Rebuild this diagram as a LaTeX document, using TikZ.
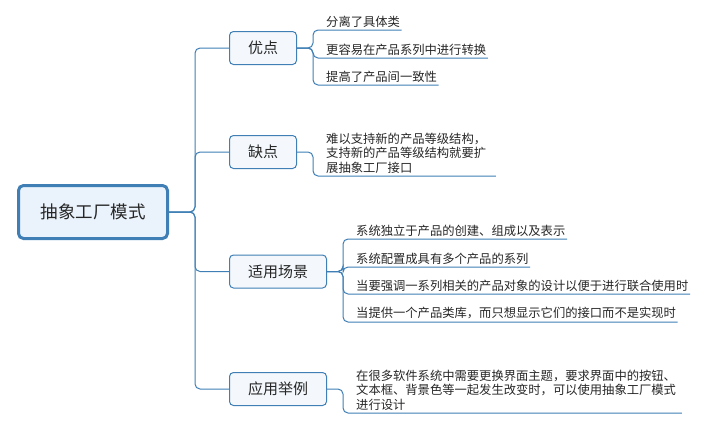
\documentclass[tikz,border=0pt]{standalone}
\usepackage{fontspec}
\setmainfont{Noto Sans CJK SC}
\usetikzlibrary{positioning}
\definecolor{linkblue}{HTML}{3F7FB5}
\definecolor{rootfill}{HTML}{EAF2FB}
\definecolor{topicfill}{HTML}{F4F8FC}
\definecolor{inkgray}{HTML}{262626}
\tikzset{
  root/.style={draw=linkblue,line width=3pt,rounded corners=5pt,fill=rootfill,minimum width=149pt,minimum height=53pt,font=\fontsize{17.5}{20}\selectfont,text=inkgray},
  topic/.style={draw=linkblue,line width=1pt,rounded corners=4pt,fill=topicfill,minimum width=67pt,minimum height=33pt,font=\fontsize{15}{18}\selectfont,text=inkgray},
  leaf/.style={anchor=south west,inner xsep=1.5pt,inner ysep=2.5pt,align=left,font=\fontsize{12.3}{14.5}\selectfont,text=inkgray},
  link/.style={draw=linkblue,line width=1pt,rounded corners=5pt}
}

\begin{document}
\begin{tikzpicture}[x=1pt,y=-1pt]
  \useasboundingbox (0,0) rectangle (709,423);

  \node (root) [root] at (93,212) {抽象工厂模式};

  \node (good) [topic] at (263,48) {优点};
  \node (bad) [topic] at (263,152) {缺点};
  \node (use) [topic,minimum width=97pt] at (278,271.5) {适用场景};
  \node (demo) [topic,minimum width=97pt] at (278,389) {应用举例};

  \draw[link] (root.east) -- ++(26,0) |- (good.west);
  \draw[link] (root.east) -- ++(26,0) |- (bad.west);
  \draw[link] (root.east) -- ++(26,0) |- (use.west);
  \draw[link] (root.east) -- ++(26,0) |- (demo.west);

  % 优点
  \node (good1) [leaf] at (324.5,30) {分离了具体类};
  \node (good2) [leaf] at (324.5,58) {更容易在产品系列中进行转换};
  \node (good3) [leaf] at (324.5,85) {提高了产品间一致性};
  \foreach \n in {good1,good2,good3}
    \draw[link] (good.east) -- ++(16,0) |- (\n.south west) -- (\n.south east);

  % 缺点
  \node (bad1) [leaf,text width=168pt] at (324.5,176) {难以支持新的产品等级结构，\\支持新的产品等级结构就要扩\\展抽象工厂接口};
  \draw[link] (bad.east) -- ++(16,0) |- (bad1.south west) -- (bad1.south east);

  % 适用场景
  \node (use1) [leaf] at (354.5,239) {系统独立于产品的创建、组成以及表示};
  \node (use2) [leaf] at (354.5,267) {系统配置成具有多个产品的系列};
  \node (use3) [leaf] at (354.5,294) {当要强调一系列相关的产品对象的设计以便于进行联合使用时};
  \node (use4) [leaf] at (354.5,322) {当提供一个产品类库，而只想显示它们的接口而不是实现时};
  \foreach \n in {use1,use2,use3,use4}
    \draw[link] (use.east) -- ++(16,0) |- (\n.south west) -- (\n.south east);

  % 应用举例
  \node (demo1) [leaf,text width=324pt] at (354.5,413) {在很多软件系统中需要更换界面主题，要求界面中的按钮、\\文本框、背景色等一起发生改变时，可以使用抽象工厂模式\\进行设计};
  \draw[link] (demo.east) -- ++(16,0) |- (demo1.south west) -- (demo1.south east);
\end{tikzpicture}
\end{document}
